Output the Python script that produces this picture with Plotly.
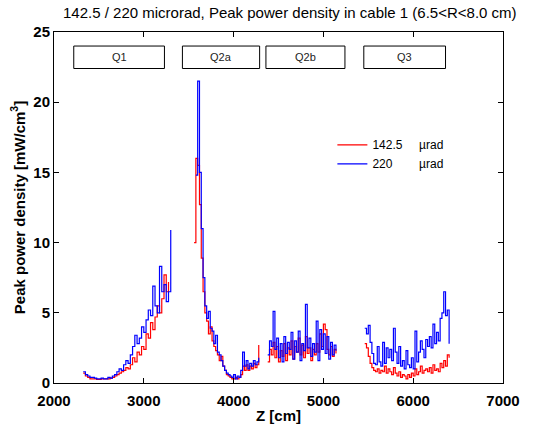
import plotly.graph_objects as go

# ---- data (Peak power density, mW/cm^3) ----
# segment definitions: start Z [cm], step [cm]
q1_start, q1_step = 2325, 25
q2a_start, q2a_step = 3560, 20
q2b_start, q2b_step = 4380, 20
q3_start, q3_step = 5460, 20

red_q1 = [0.7, 0.5, 0.4, 0.3, 0.3, 0.3, 0.25, 0.25, 0.3, 0.3,
          0.3, 0.3, 0.35, 0.4, 0.5, 0.6, 0.7, 0.8, 0.9, 1.1,
          1.0, 1.3, 1.8, 1.5, 2.2, 2.0, 2.6, 2.4, 3.5, 3.2,
          4.3, 3.8, 4.7, 5.5, 5.0, 6.0, 7.7, 6.5, 7.2, None]
blue_q1 = [0.8, 0.6, 0.5, 0.4, 0.4, 0.35, 0.3, 0.3, 0.35, 0.3,
           0.3, 0.4, 0.35, 0.5, 0.6, 0.8, 1.0, 0.9, 1.3, 1.6,
           1.4, 2.0, 2.6, 3.4, 2.8, 3.2, 4.0, 3.6, 4.5, 5.2,
           4.8, 6.9, 5.5, 5.0, 8.3, 6.5, 7.0, 5.8, 6.5, 10.9]

red_q2a = [10.0, 16.0, 15.5, 12.7, 8.9, 6.5, 5.0, 4.4, 3.5, 4.0,
           3.0, 2.6, 2.3, 2.0, 1.6, 1.9, 1.2, 0.9, 0.6, 0.5,
           0.4, 0.3, 0.3, 0.4, 0.3, 0.4, 0.6, 1.2, 0.9, 1.3,
           0.9, 1.2, 1.0, 1.4, 1.1, 1.3, 2.7]
blue_q2a = [None, 14.8, 21.5, 15.0, 11.0, 7.5, 5.5, 4.6, 5.1, 3.9,
            3.7, 2.8, 3.4, 2.2, 2.0, 1.6, 1.2, 0.9, 0.7, 0.6,
            0.5, 0.4, 0.6, 0.3, 0.5, 0.4, 0.9, 2.2, 1.2, 1.6,
            1.0, 1.4, 1.2, 1.6, 1.3, 1.5, 1.8]

red_q2b = [1.5, 2.4, 2.0, 2.9, 1.8, 2.6, 1.5, 2.3, 1.9, 2.8,
           1.6, 2.5, 2.0, 3.0, 1.7, 2.6, 2.2, 3.2, 2.0, 2.7,
           1.8, 3.3, 2.1, 2.5, 1.6, 2.4, 2.0, 2.8, 2.2, 3.5,
           2.6, 4.2, 3.8, 2.4, 2.0, 2.6, 1.9, 2.4, 2.1]
blue_q2b = [2.0, 3.0, 2.6, 5.1, 2.4, 3.2, 1.8, 2.8, 1.5, 3.3,
            2.1, 2.9, 2.4, 3.6, 1.7, 3.0, 2.2, 3.7, 1.6, 2.8,
            2.3, 5.6, 2.5, 3.2, 1.9, 2.8, 2.2, 4.4, 1.6, 3.8,
            2.4, 3.5, 2.1, 3.3, 1.7, 2.9, 2.0, 2.7, 2.3]

red_q3 = [2.8, 2.5, 1.9, 1.4, 1.1, 0.9, 0.8, 1.0, 0.7, 0.9,
          0.8, 1.2, 0.7, 1.0, 0.8, 0.6, 1.1, 0.7, 0.5, 0.8,
          0.4, 0.6, 0.5, 0.3, 0.6, 0.4, 0.7, 0.5, 1.0, 0.6,
          0.8, 1.2, 0.7, 0.9, 1.0, 0.8, 1.1, 0.7, 1.3, 0.9,
          1.0, 0.8, 1.4, 1.1, 1.6, 1.2, 2.0, 1.8]
blue_q3 = [3.9, 3.5, 4.1, 2.9, 2.1, 1.4, 1.3, 2.6, 1.5, 1.2,
           2.9, 1.4, 2.5, 1.8, 2.4, 1.6, 3.9, 2.2, 1.4, 2.6,
           1.2, 1.6, 1.0, 2.3, 1.3, 1.1, 1.8, 1.0, 3.7, 1.5,
           2.2, 3.0, 2.4, 1.8, 3.1, 2.6, 3.3, 2.5, 4.2, 2.8,
           3.6, 3.0, 4.6, 5.0, 6.5, 4.8, 5.2, 2.8]

# magnet region boxes: label, z_from, z_to
box_labels = ["Q1", "Q2a", "Q2b", "Q3"]
box_from = [2220, 3430, 4360, 5450]
box_to = [3230, 4290, 5240, 6360]
box_ylo, box_yhi = 22.4, 24.0

x_ticks = [2000, 3000, 4000, 5000, 6000, 7000]
y_ticks = [0, 5, 10, 15, 20, 25]

segments = [(q1_start, q1_step, red_q1, blue_q1),
            (q2a_start, q2a_step, red_q2a, blue_q2a),
            (q2b_start, q2b_step, red_q2b, blue_q2b),
            (q3_start, q3_step, red_q3, blue_q3)]

zr, yr, zb, yb = [], [], [], []
for start, step, rv, bv in segments:
    zs = [start + i * step for i in range(len(rv))]
    zr += zs + [None]
    yr += rv + [None]
    zb += zs + [None]
    yb += bv + [None]

FONT = "Liberation Sans, Arial, sans-serif"

fig = go.Figure()
fig.add_trace(go.Scatter(x=zr, y=yr, mode="lines", line=dict(color="#ff0000", width=1.2, shape="hv"),
                         name="142.5&nbsp;&nbsp;&nbsp;&nbsp;&nbsp;µrad", connectgaps=False))
fig.add_trace(go.Scatter(x=zb, y=yb, mode="lines", line=dict(color="#0000ff", width=1.2, shape="hv"),
                         name="220&nbsp;&nbsp;&nbsp;&nbsp;&nbsp;&nbsp;&nbsp;&nbsp;µrad", connectgaps=False))

for lab, a, b in zip(box_labels, box_from, box_to):
    fig.add_shape(type="rect", x0=a, x1=b, y0=box_ylo, y1=box_yhi, xref="x", yref="y",
                  line=dict(color="black", width=1), fillcolor="white", layer="above")
    fig.add_annotation(x=(a + b) / 2, y=(box_ylo + box_yhi) / 2, text=lab, showarrow=False,
                       font=dict(family=FONT, size=11, color="#222"))

fig.add_annotation(x=0.525, y=1, xref="paper", yref="paper", yshift=20, yanchor="middle",
                   text="142.5 / 220 microrad, Peak power density in cable 1 (6.5<R<8.0 cm)",
                   showarrow=False, font=dict(family=FONT, size=15, color="black"))

axis_common = dict(showgrid=False, zeroline=False, showline=True, linecolor="black", linewidth=1,
                   mirror="ticks", ticks="inside", ticklen=5, tickcolor="black",
                   tickfont=dict(family=FONT, size=15, color="black", weight="bold"))

fig.update_layout(
    width=547, height=433,
    margin=dict(l=54, r=44, t=32, b=50),
    plot_bgcolor="white", paper_bgcolor="white",
    xaxis=dict(range=[2000, 7000], tickvals=x_ticks, ticktext=[str(v) for v in x_ticks],
               ticklabelstandoff=4,
               title=dict(text="Z [cm]", font=dict(family=FONT, size=15, color="black", weight="bold"), standoff=2),
               **axis_common),
    yaxis=dict(range=[0, 25], tickvals=y_ticks, ticktext=[str(v) for v in y_ticks],
               title=dict(text="Peak power density [mW/cm<sup>3</sup>]", font=dict(family=FONT, size=15, color="black", weight="bold"), standoff=4),
               **axis_common),
    legend=dict(x=0.62, y=0.72, xanchor="left", yanchor="top", bgcolor="rgba(0,0,0,0)",
                font=dict(family=FONT, size=12, color="black"), itemwidth=30, tracegroupgap=0),
    showlegend=True,
)

fig.write_html("out.html")
